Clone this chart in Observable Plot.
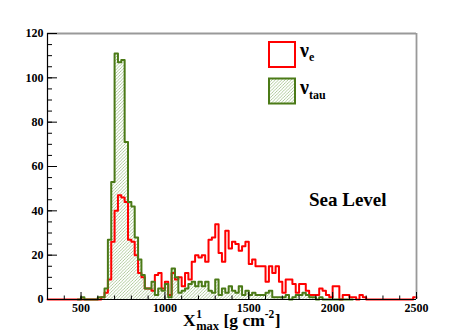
<!DOCTYPE html>
<html><head><meta charset="utf-8">
<script src="https://cdn.jsdelivr.net/npm/d3@7"></script>
<script src="https://cdn.jsdelivr.net/npm/@observablehq/plot@0.6"></script>
<style>body{margin:0;background:#fff} svg{display:block}</style>
</head><body><div id="chart"></div>
<script>
// Histogram: bins of 20 g/cm^2 starting at 300
const binStart = 300, binWidth = 20, xMax = 2500;
const nuE = [
  0,0,0,0,0,0,0,0,0,0,0,0,0,0,0,
  0,1,3,9,26,40,47,46,44,27,
  26,20,12,10,5,5,4,11,12,5,
  8,2,12,9,10,6,12,9,17,20,
  19,20,17,27,28,34,21,17,31,23,
  26,25,22,24,26,16,18,15,15,15,
  8,15,12,15,8,3,9,9,7,3,
  7,7,4,2,2,2,5,4,2,1,
  6,6,0,2,2,1,1,0,2,1,
  0,0,0,0,0,0,0,0,0,0,0,0,0,0,
  1
];
const nuTau = [
  0,0,0,0,0,0,0,0,0,0,
  1,0,0,0,0,1,1,5,27,53,
  111,107,108,71,44,42,28,18,11,5,
  5,8,2,5,4,7,1,14,10,3,
  4,5,7,8,6,8,6,8,4,3,
  9,2,5,3,6,4,3,6,2,4,
  2,3,2,2,2,3,4,1,1,1,
  1,2,0,1,2,2,3,2,1,1,
  0,1,0,0,0,0,0,0,0,0,
  0,0,0,0,0,0,0,0,0,0,0,0,0,0,0,0,0,0,0,0
];
const yMajor = [0, 20, 40, 60, 80, 100, 120];
const yMinor = d3.range(0, 121, 5);
const xMajor = [500, 1000, 1500, 2000, 2500];
const xMinor = d3.range(300, 2501, 100);
const tauDrawn = [480, 2120];

function rows(arr) {
  const r = arr.map((v, i) => ({x: binStart + i * binWidth, v}));
  r.push({x: xMax, v: arr[arr.length - 1]});
  return r;
}
const eRows = rows(nuE);
const tauRows = rows(nuTau);
const tauLine = tauRows.filter(d => d.x >= tauDrawn[0] && d.x <= tauDrawn[1]);

const red = "#ff0000", green = "#4b7a17";
const plot = Plot.plot({
  width: 463, height: 333,
  marginLeft: 47, marginRight: 47, marginTop: 33, marginBottom: 34,
  style: {fontFamily: "'Liberation Serif', 'DejaVu Serif', serif", fontSize: "12px", fontWeight: "bold", background: "white", color: "black", overflow: "visible"},
  x: {domain: [300, xMax], axis: null, label: null},
  y: {domain: [0, 120], axis: null, label: null},
  marks: [
    Plot.areaY(tauRows, {x: "x", y: "v", curve: "step-after", fill: "url(#hatch)"}),
    Plot.line(eRows, {x: "x", y: "v", curve: "step-after", stroke: red, strokeWidth: 2}),
    Plot.line(tauLine, {x: "x", y: "v", curve: "step-after", stroke: green, strokeWidth: 2}),
    Plot.ruleY([120], {stroke: "#999", strokeWidth: 1.8}),
    Plot.ruleX([xMax], {stroke: "#999", strokeWidth: 1.8}),
    Plot.ruleY([0], {stroke: "black", strokeWidth: 1.2}),
    Plot.ruleX([300], {stroke: "black", strokeWidth: 1.2}),
    Plot.axisY({ticks: yMinor, tickSize: -5, tickFormat: () => "", label: null}),
    Plot.axisY({ticks: yMajor, tickSize: -10, tickFormat: () => "", label: null}),
    Plot.axisY({ticks: yMajor, tickSize: 0, tickPadding: 4, tickFormat: d => String(d), label: null}),
    Plot.axisX({ticks: xMinor, tickSize: -3.5, tickFormat: () => "", label: null}),
    Plot.axisX({ticks: xMajor, tickSize: -7, tickFormat: () => "", label: null}),
    Plot.axisX({ticks: xMajor, tickSize: 0, tickPadding: 4, tickFormat: d => String(d), label: null})
  ]
});
document.getElementById("chart").appendChild(plot);

const svg = d3.select(plot);
const defs = svg.insert("defs", ":first-child");
defs.append("pattern").attr("id", "hatch").attr("patternUnits", "userSpaceOnUse")
  .attr("width", 3.2).attr("height", 3.2)
  .append("path").attr("d", "M-0.8,0.8 l1.6,-1.6 M0,3.2 l3.2,-3.2 M2.4,4 l1.6,-1.6")
  .attr("stroke", "#8fb572").attr("stroke-width", 0.7).attr("fill", "none");

const font = "'Liberation Serif', 'DejaVu Serif', serif";
const g = svg.append("g").attr("text-anchor", "start");
function seq(x, y, parts) {
  let cx = x;
  for (const p of parts) {
    const t = g.append("text").attr("x", cx).attr("y", y + (p.dy || 0))
      .attr("text-anchor", "start")
      .attr("font-family", font).attr("font-weight", "bold").attr("font-size", p.size).text(p.t);
    const w = t.node().getComputedTextLength();
    if (!p.stack) cx += w + (p.gap || 0);
  }
  return cx;
}
// x-axis title
seq(183, 326, [
  {t: "X", size: 17.5, gap: 0.5},
  {t: "1", size: 11.5, dy: -8, stack: true},
  {t: "max", size: 12.5, dy: 4},
  {t: "\u00a0[g cm", size: 17.5},
  {t: "-2", size: 11.5, dy: -8, gap: 0.5},
  {t: "]", size: 17.5}
]);
// Sea Level
g.append("text").attr("x", 309).attr("y", 206).attr("font-family", font)
  .attr("font-weight", "bold").attr("font-size", 19).text("Sea Level");
// Legend
g.append("rect").attr("x", 269).attr("y", 42).attr("width", 26).attr("height", 25)
  .attr("fill", "white").attr("stroke", red).attr("stroke-width", 2);
seq(300, 57, [{t: "ν", size: 20}, {t: "e", size: 12, dy: 4}]);
g.append("rect").attr("x", 269).attr("y", 78.5).attr("width", 26).attr("height", 25)
  .attr("fill", "url(#hatch)").attr("stroke", green).attr("stroke-width", 2);
seq(300, 94, [{t: "ν", size: 20}, {t: "tau", size: 12, dy: 5}]);
</script>
</body></html>
